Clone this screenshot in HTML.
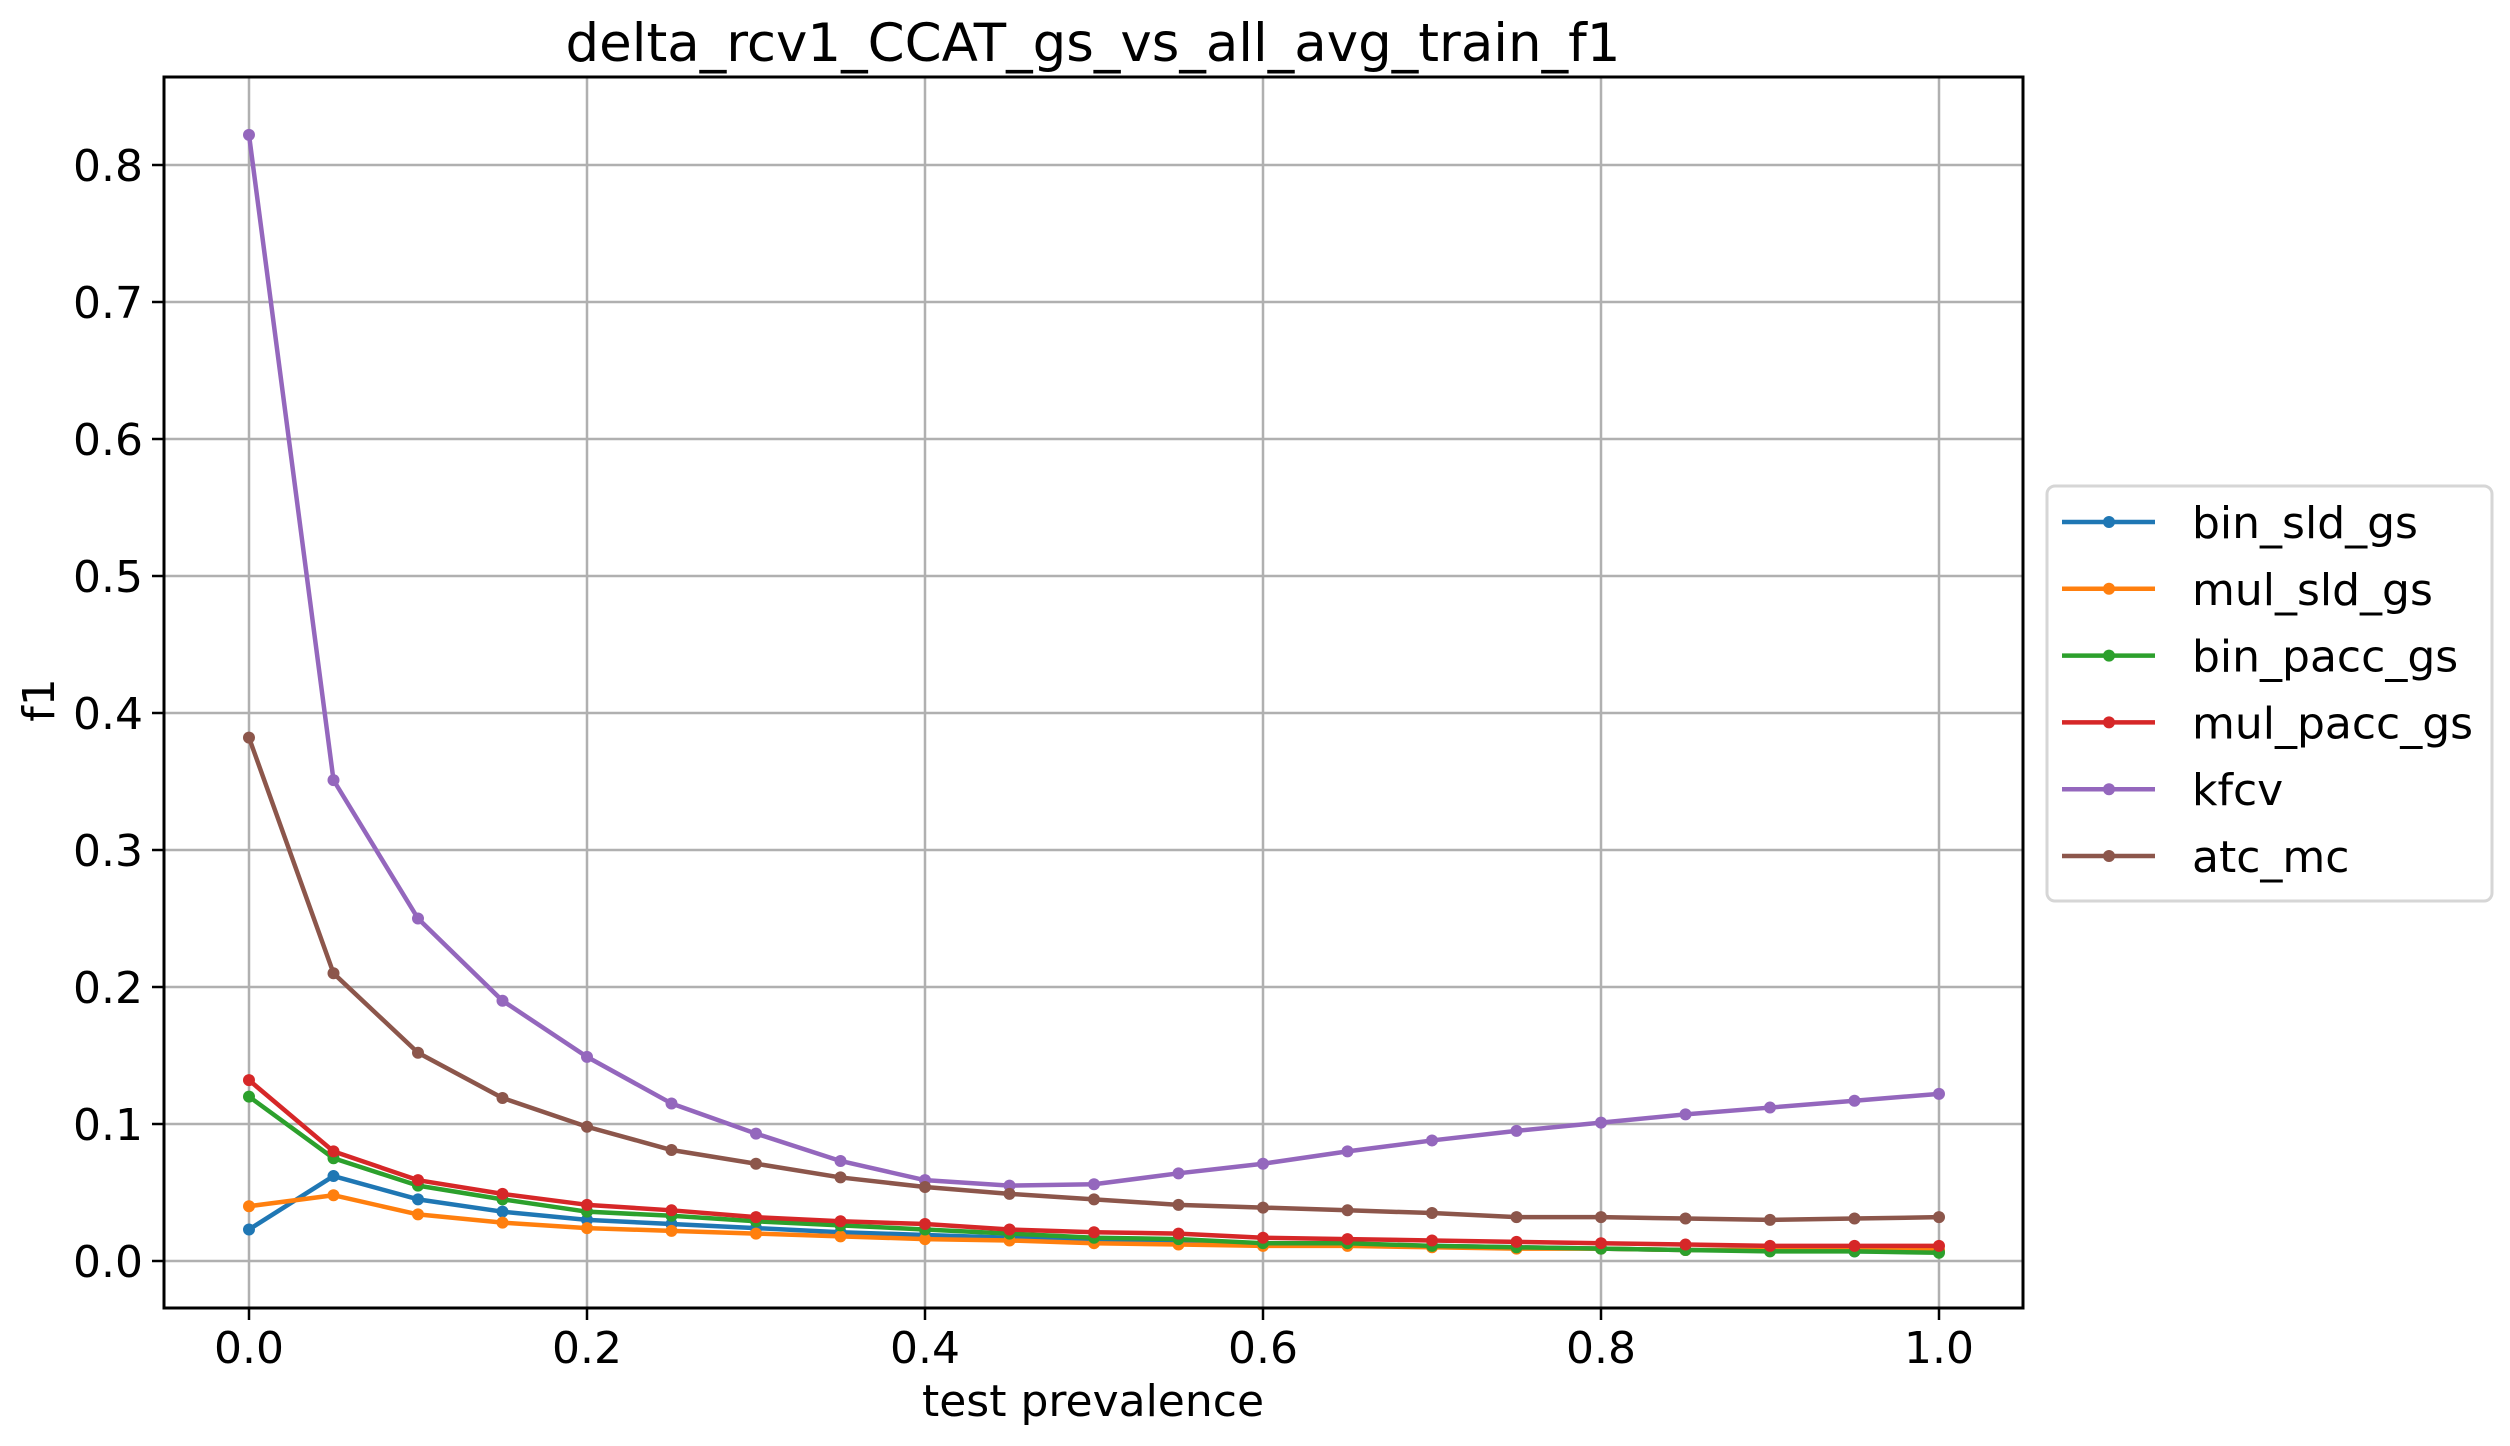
<!DOCTYPE html>
<html><head><meta charset="utf-8"><style>
html,body{margin:0;padding:0;background:#fff}
svg{display:block;font-family:"DejaVu Sans","Liberation Sans",sans-serif}
</style></head><body>
<svg id="chart" width="2510" height="1446" viewBox="0 0 2510 1446" xmlns="http://www.w3.org/2000/svg">
<rect x="0" y="0" width="2510" height="1446" fill="#fff"/>
<g id="grid"></g>
<g id="series"></g>
<rect x="164" y="77" width="1859" height="1231" fill="none" stroke="#000" stroke-width="3"/>
<g id="ticks"></g>
<text x="1093" y="61" font-size="53" text-anchor="middle">delta_rcv1_CCAT_gs_vs_all_avg_train_f1</text>
<text x="1093" y="1416" font-size="44" text-anchor="middle">test prevalence</text>
<text x="54" y="700" font-size="44" text-anchor="middle" transform="rotate(-90 54 700)">f1</text>
<g>
<rect x="2047" y="486" width="445" height="415" rx="8" fill="#fff" stroke="#d6d6d6" stroke-width="3"/>
<g id="legend"></g>
</g>
</svg>
<script>
const categories = [0,0.05,0.1,0.15,0.2,0.25,0.3,0.35,0.4,0.45,0.5,0.55,0.6,0.65,0.7,0.75,0.8,0.85,0.9,0.95,1.0];
const seriesNames = ["bin_sld_gs","mul_sld_gs","bin_pacc_gs","mul_pacc_gs","kfcv","atc_mc"];
const seriesColors = ["#1f77b4","#ff7f0e","#2ca02c","#d62728","#9467bd","#8c564b"];
const binSld = [0.023,0.062,0.045,0.036,0.030,0.027,0.024,0.021,0.019,0.017,0.015,0.014,0.012,0.012,0.011,0.010,0.009,0.008,0.008,0.007,0.007];
const mulSld = [0.040,0.048,0.034,0.028,0.024,0.022,0.020,0.018,0.016,0.015,0.013,0.012,0.011,0.011,0.010,0.009,0.009,0.008,0.008,0.008,0.008];
const binPacc = [0.120,0.075,0.055,0.045,0.036,0.033,0.029,0.026,0.023,0.020,0.017,0.016,0.013,0.013,0.011,0.010,0.009,0.008,0.007,0.007,0.006];
const mulPacc = [0.132,0.080,0.059,0.049,0.041,0.037,0.032,0.029,0.027,0.023,0.021,0.020,0.017,0.016,0.015,0.014,0.013,0.012,0.011,0.011,0.011];
const kfcv = [0.822,0.351,0.250,0.190,0.149,0.115,0.093,0.073,0.059,0.055,0.056,0.064,0.071,0.080,0.088,0.095,0.101,0.107,0.112,0.117,0.122];
const atcMc = [0.382,0.210,0.152,0.119,0.098,0.081,0.071,0.061,0.054,0.049,0.045,0.041,0.039,0.037,0.035,0.032,0.032,0.031,0.030,0.031,0.032];
const xTicks = [0,0.2,0.4,0.6,0.8,1.0];
const xTickLabels = ["0.0","0.2","0.4","0.6","0.8","1.0"];
const yTicks = [0,0.1,0.2,0.3,0.4,0.5,0.6,0.7,0.8];
const yTickLabels = ["0.0","0.1","0.2","0.3","0.4","0.5","0.6","0.7","0.8"];

const NS="http://www.w3.org/2000/svg";
function xs(v){return 249+v*1690;}
function ys(v){return 1261-v*1370;}
function mk(tag,attrs,parent){const e=document.createElementNS(NS,tag);for(const k in attrs)e.setAttribute(k,attrs[k]);parent.appendChild(e);return e;}
const grid=document.getElementById('grid'),ticks=document.getElementById('ticks');
xTicks.forEach((t,i)=>{
  const g=mk('line',{x1:xs(t),x2:xs(t),y1:77,y2:1308,stroke:'#b0b0b0','stroke-width':2.5},grid);
  
  
  const tk=mk('line',{x1:xs(t),x2:xs(t),y1:1308,y2:1320,stroke:'#000','stroke-width':2.5},ticks);
  
  
  const tx=mk('text',{x:xs(t),y:1363,'font-size':44,'text-anchor':'middle'},ticks);
  tx.textContent=xTickLabels[i];
  
  
});
yTicks.forEach((t,i)=>{
  const g=mk('line',{x1:164,x2:2023,y1:ys(t),y2:ys(t),stroke:'#b0b0b0','stroke-width':2.5},grid);
  
  
  const tk=mk('line',{x1:152,x2:164,y1:ys(t),y2:ys(t),stroke:'#000','stroke-width':2.5},ticks);
  
  
  const tx=mk('text',{x:143,y:ys(t)+16,'font-size':44,'text-anchor':'end'},ticks);
  tx.textContent=yTickLabels[i];
  
  
});
const allSeries=[binSld,mulSld,binPacc,mulPacc,kfcv,atcMc];
const sl=document.getElementById('series');
allSeries.forEach((vals,si)=>{
  const g=mk('g',{},sl);
  
  
  const pts=vals.map((v,i)=>xs(categories[i])+','+ys(v)).join(' ');
  const pl=mk('polyline',{points:pts,fill:'none',stroke:seriesColors[si],'stroke-width':4.5,'stroke-linejoin':'round'},g);
  
  
  vals.forEach((v,i)=>{
    const c=mk('circle',{cx:xs(categories[i]),cy:ys(v),r:6,fill:seriesColors[si]},g);
    
    
  });
});
const lg=document.getElementById('legend');
seriesNames.forEach((n,i)=>{
  const y=522+i*66.8;
  const g=mk('g',{},lg);
  
  
  mk('line',{x1:2062,x2:2155,y1:y,y2:y,stroke:seriesColors[i],'stroke-width':4.5},g);
  mk('circle',{cx:2109,cy:y,r:6,fill:seriesColors[i]},g);
  const t=mk('text',{x:2192,y:y+16,'font-size':44},g);
  t.textContent=n;
});
</script>
</body></html>
